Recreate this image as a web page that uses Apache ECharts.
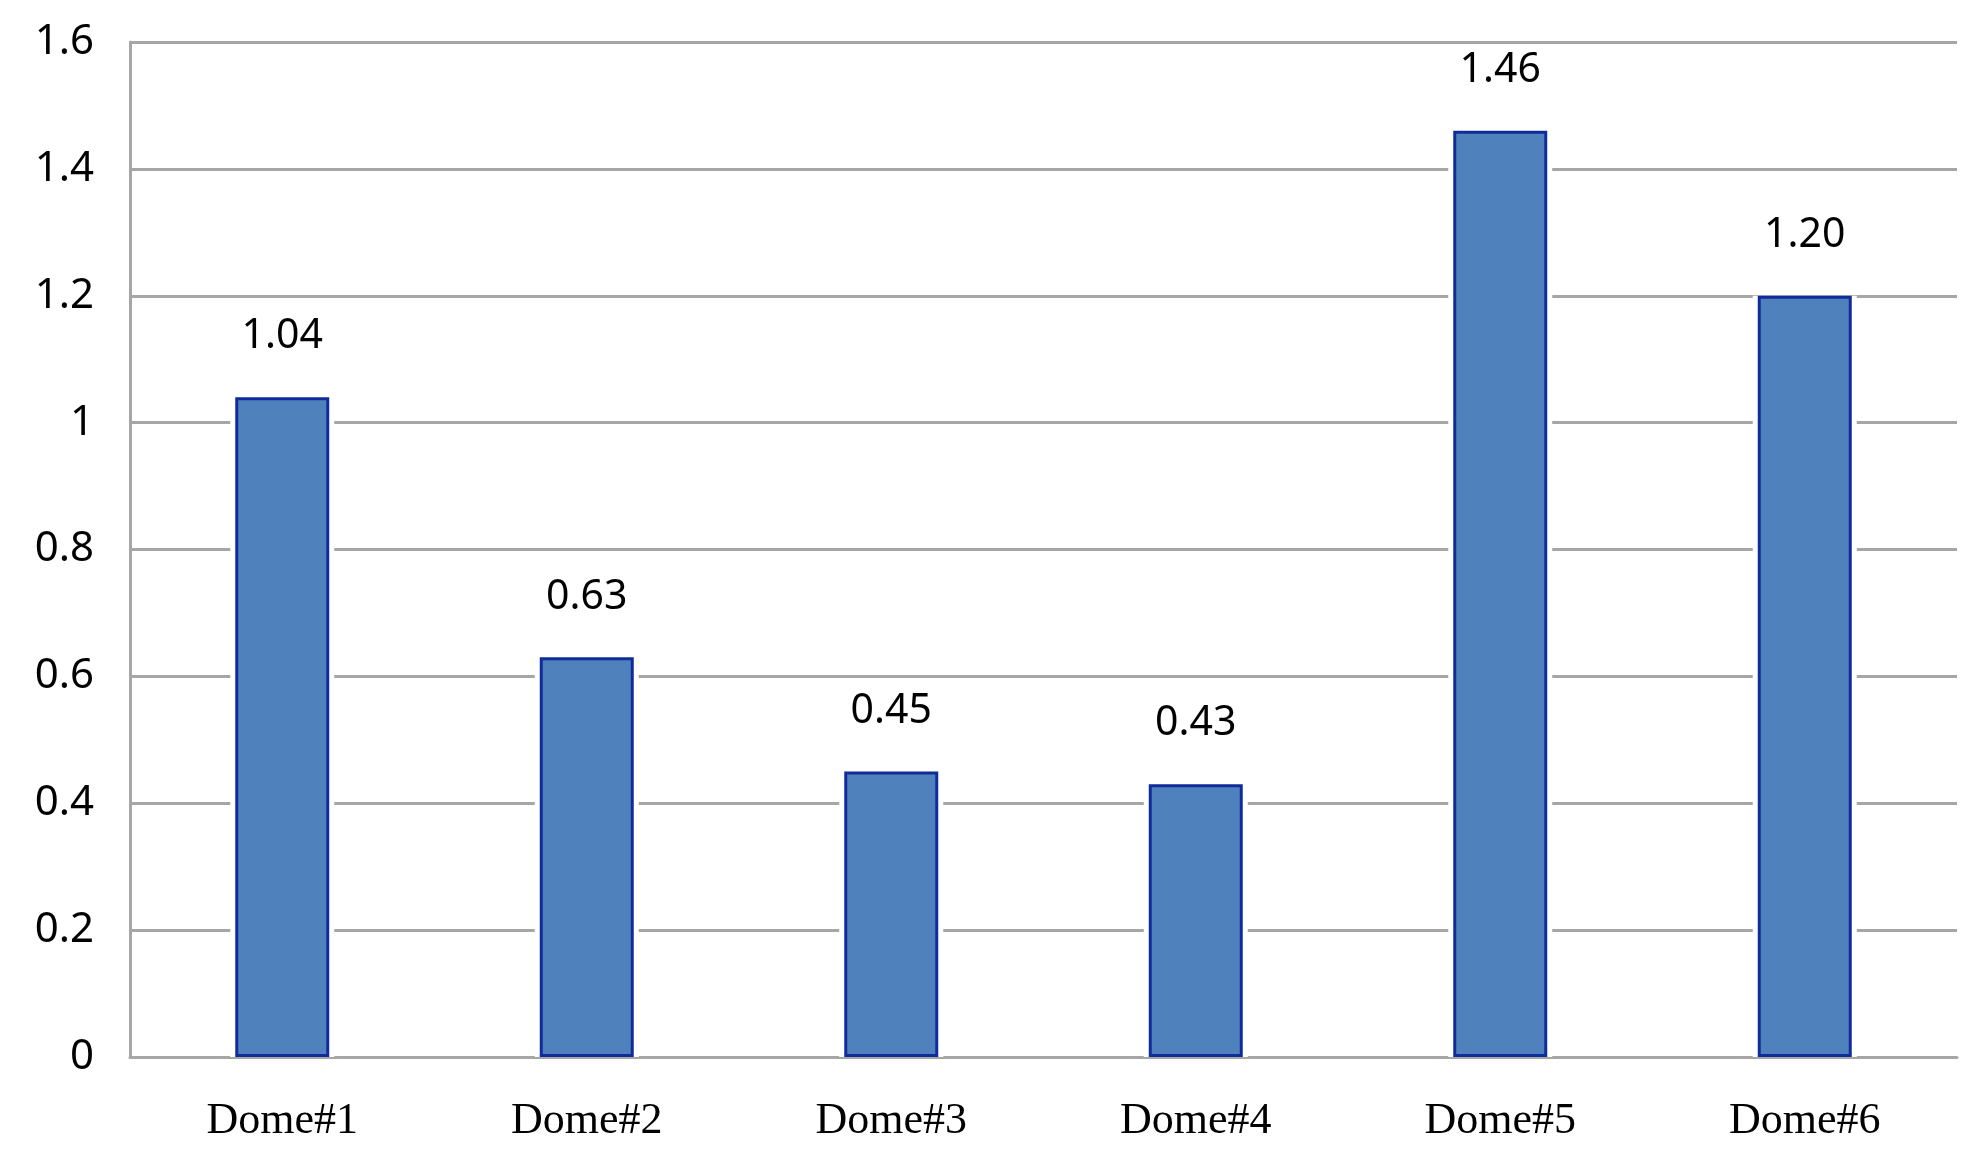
<!DOCTYPE html>
<html>
<head>
<meta charset="utf-8">
<script src="https://cdn.jsdelivr.net/npm/echarts@6/dist/echarts.min.js"></script>
<style>html,body{margin:0;padding:0;background:#fff}#c{width:1982px;height:1171px}</style>
</head>
<body>
<div id="c"></div>
<script>
const categories = ['Dome#1', 'Dome#2', 'Dome#3', 'Dome#4', 'Dome#5', 'Dome#6'];
const values = [1.04, 0.63, 0.45, 0.43, 1.46, 1.20];
const yTicks = { min: 0, max: 1.6, interval: 0.2 };

const chart = echarts.init(document.getElementById('c'));
chart.setOption({
  backgroundColor: '#ffffff',
  animation: false,
  grid: { left: 130, right: 25, top: 42, bottom: 114, containLabel: false },
  xAxis: [{
    type: 'category',
    data: categories,
    axisLine: { show: true, lineStyle: { color: '#a6a6a6', width: 3 } },
    axisTick: { show: false },
    axisLabel: { color: '#000', fontFamily: 'Liberation Serif', fontSize: 44, margin: 42 }
  }, {
    type: 'category',
    data: categories,
    show: false
  }],
  yAxis: {
    type: 'value',
    min: yTicks.min, max: yTicks.max, interval: yTicks.interval,
    axisLine: { show: true, lineStyle: { color: '#a6a6a6', width: 3 } },
    axisTick: { show: false },
    splitLine: { show: true, lineStyle: { color: '#a6a6a6', width: 3 } },
    axisLabel: {
      color: '#000', fontFamily: 'Noto Sans', fontSize: 42, margin: 36,
      formatter: v => (Math.round(v * 10) / 10).toString()
    }
  },
  series: [{
    type: 'bar',
    xAxisIndex: 1,
    data: values,
    barWidth: 104,
    itemStyle: { color: '#ffffff' },
    silent: true,
    z: 1
  }, {
    type: 'bar',
    xAxisIndex: 0,
    data: values,
    barWidth: 94,
    z: 3,
    itemStyle: { color: '#4f81bd', borderColor: '#102c9a', borderWidth: 3 },
    label: {
      show: true, position: 'top', distance: 40,
      color: '#000', fontFamily: 'Noto Sans', fontSize: 41,
      formatter: p => p.value.toFixed(2)
    }
  }]
});
</script>
</body>
</html>
